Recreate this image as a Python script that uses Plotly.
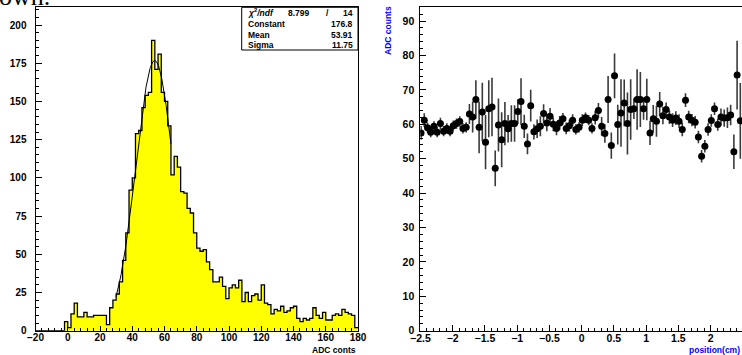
import numpy as np
import plotly.graph_objects as go

W, H = 742, 355

# ---------------- left: histogram ----------------
hist_lo = -20
hist_bin = 2
hist_counts = [0, 0, 0, 0, 0, 0, 0, 0, 0,
               6, 2, 11, 18, 9, 9, 12, 9, 9, 10, 10, 10, 10, 4, 15, 20, 24, 32, 46, 64,
               92, 100, 129, 131, 146, 154, 156, 190, 171, 181, 156, 150, 134, 102, 114, 107,
               91, 90, 80, 77, 64, 54, 52, 53, 45, 40, 32, 32, 35, 29, 21, 28, 30, 28, 33,
               19, 25, 19, 23, 24, 20, 30, 18, 17, 11, 14, 13, 16, 12, 13, 15, 16, 8, 6,
               8, 7, 8, 15, 10, 8, 12, 7, 7, 10, 11, 10, 14, 12, 11, 10, 2]

fit_const = 176.8
fit_mean = 53.91
fit_sigma = 11.75
fit_range = [30, 64]
stat_labels = ["<i>χ</i><sup>2</sup><i>/ndf</i>", "Constant", "Mean", "Sigma"]
stat_values = ["14", "176.8", "53.91", "11.75"]
chi2_value = "8.799"

# ---------------- right: profile ----------------
pos_x = [-2.49, -2.44, -2.39, -2.34, -2.29, -2.24, -2.19, -2.14, -2.09, -2.04,
         -1.99, -1.94, -1.89, -1.84, -1.79, -1.74, -1.69, -1.64, -1.59, -1.54,
         -1.49, -1.44, -1.39, -1.34, -1.29, -1.24, -1.19, -1.14, -1.09, -1.04,
         -0.99, -0.94, -0.89, -0.84, -0.79, -0.74, -0.69, -0.64, -0.59, -0.54,
         -0.49, -0.44, -0.39, -0.34, -0.29, -0.24, -0.19, -0.14, -0.09, -0.04,
         0.01, 0.06, 0.11, 0.16, 0.21, 0.26, 0.31, 0.36, 0.41, 0.46,
         0.51, 0.56, 0.61, 0.66, 0.71, 0.76, 0.81, 0.86, 0.91, 0.96,
         1.01, 1.06, 1.11, 1.16, 1.21, 1.26, 1.31, 1.36, 1.41, 1.46,
         1.51, 1.56, 1.61, 1.66, 1.71, 1.76, 1.81, 1.86, 1.91, 1.96,
         2.01, 2.06, 2.11, 2.16, 2.21, 2.26, 2.31, 2.36, 2.41, 2.46]
adc_mean = [57.5, 61.2, 59.0, 57.7, 59.4, 57.7, 60.2, 58.0, 58.8, 58.0,
            59.6, 60.2, 60.8, 58.8, 59.1, 63.0, 62.1, 67.2, 59.1, 63.6,
            54.8, 64.5, 65.0, 47.2, 59.8, 55.5, 60.2, 58.7, 60.2, 60.2,
            63.7, 66.6, 59.4, 54.3, 65.4, 57.8, 58.7, 59.4, 63.1, 60.4,
            62.3, 60.0, 58.8, 60.4, 61.6, 58.8, 59.6, 61.2, 58.5, 59.1,
            61.2, 61.9, 61.2, 58.8, 61.9, 64.0, 59.4, 57.3, 67.2, 53.8,
            74.1, 59.9, 63.3, 66.2, 60.2, 64.3, 64.5, 67.2, 67.2, 64.5,
            67.2, 57.5, 61.6, 60.9, 65.9, 62.5, 64.3, 62.1, 61.2, 61.8,
            60.9, 58.5, 67.0, 62.1, 61.2, 60.6, 56.3, 50.7, 53.6, 58.5,
            61.1, 64.5, 59.9, 62.1, 61.8, 61.9, 62.7, 52.0, 74.3, 61.0]
adc_err = [2.0, 2.0, 1.5, 1.5, 1.5, 1.5, 1.7, 1.5, 1.5, 1.5,
           1.5, 1.5, 1.5, 1.5, 1.5, 2.9, 4.5, 5.6, 7.5, 8.5,
           7.9, 8.3, 8.5, 5.2, 7.7, 8.0, 6.3, 4.0, 5.3, 5.3,
           3.6, 6.8, 3.4, 3.0, 4.6, 2.2, 2.7, 2.9, 2.7, 2.4,
           2.4, 2.0, 2.0, 2.0, 1.7, 1.7, 1.7, 1.7, 1.5, 1.5,
           1.7, 1.5, 1.5, 1.5, 2.0, 2.2, 2.7, 2.7, 6.8, 3.8,
           6.5, 5.8, 9.8, 6.8, 9.0, 8.8, 3.0, 8.8, 8.0, 3.2,
           6.0, 3.5, 4.0, 4.5, 3.5, 2.5, 2.0, 2.0, 2.0, 2.0,
           2.0, 2.0, 2.0, 1.8, 1.8, 1.8, 1.8, 1.8, 1.8, 1.8,
           1.8, 1.8, 1.8, 2.5, 2.5, 3.0, 3.0, 5.0, 10.0, 11.0]

# ---------------- geometry helpers ----------------
def px(x):
    return x / W

def py(y):
    return 1 - y / H

L_X0, L_X1 = 35.5, 358.0
R_X0 = 420.4
Y_TOP, Y_BOT = 7.3, 330.7

edges = hist_lo + hist_bin * np.arange(len(hist_counts) + 1)
hist_y = list(hist_counts) + [hist_counts[-1]]

fx = np.linspace(fit_range[0], fit_range[1], 200)
fy = fit_const * np.exp(-0.5 * ((fx - fit_mean) / fit_sigma) ** 2)

fig = go.Figure()
fig.add_trace(go.Scatter(x=edges, y=hist_y, mode="lines", line=dict(shape="hv", color="black", width=1.3),
                         fill="tozeroy", fillcolor="#ffff00", xaxis="x", yaxis="y", showlegend=False,
                         hoverinfo="skip"))
fig.add_trace(go.Scatter(x=fx, y=fy, mode="lines", line=dict(color="black", width=1),
                         xaxis="x", yaxis="y", showlegend=False))
fig.add_trace(go.Scatter(x=pos_x, y=adc_mean, mode="markers",
                         marker=dict(color="black", size=7),
                         error_y=dict(type="data", array=adc_err, visible=True, thickness=1.6,
                                      width=0, color="#3a3a3a"),
                         xaxis="x2", yaxis="y2", showlegend=False, cliponaxis=True))

tickfont_l = dict(family="Liberation Sans, Arial", size=10, color="black", weight="bold")
tickfont_r = dict(family="Liberation Sans, Arial", size=10.5, color="black", weight="bold")

common = dict(showgrid=False, zeroline=False, showline=True, linecolor="black", linewidth=1,
              ticks="inside", tickcolor="black", tickwidth=1, automargin=False)

fig.update_layout(
    width=W, height=H, margin=dict(l=0, r=0, t=0, b=0),
    paper_bgcolor="white", plot_bgcolor="white",
    xaxis=dict(domain=[px(L_X0), px(L_X1)], range=[-20, 180], dtick=20, tick0=0, anchor="y",
               mirror=True, ticklen=5, tickfont=tickfont_l, ticklabelstandoff=-3,
               minor=dict(ticks="inside", ticklen=3, dtick=4, tickcolor="black", showgrid=False),
               **common),
    yaxis=dict(domain=[py(Y_BOT), py(Y_TOP)], range=[0, 211.6], dtick=25, tick0=0, anchor="x",
               mirror=True, ticklen=6, tickfont=tickfont_l, ticklabelstandoff=6,
               minor=dict(ticks="inside", ticklen=3, dtick=5, tickcolor="black", showgrid=False),
               **common),
    xaxis2=dict(domain=[px(R_X0), 1.0], range=[-2.5, 2.486], dtick=0.5, tick0=0, anchor="y2",
                mirror=True, ticklen=6, tickfont=tickfont_r, ticklabelstandoff=-2,
                minor=dict(ticks="inside", ticklen=3, dtick=0.1, tickcolor="black", showgrid=False),
                **common),
    yaxis2=dict(domain=[py(Y_BOT), py(Y_TOP)], range=[0, 94.0], dtick=10, tick0=0, anchor="x2",
                mirror=False, ticklen=6, tickfont=tickfont_r, ticklabelstandoff=3,
                minor=dict(ticks="inside", ticklen=3, dtick=2, tickcolor="black", showgrid=False),
                **common),
)

ann = []
# axis titles
ann.append(dict(text="ADC conts", x=px(358), y=py(349.5), xref="paper", yref="paper", xanchor="right",
                yanchor="middle", showarrow=False,
                font=dict(family="Liberation Sans, Arial", size=8.5, color="black", weight="bold")))
ann.append(dict(text="position(cm)", x=px(742), y=py(350), xref="paper", yref="paper", xanchor="right",
                yanchor="middle", showarrow=False,
                font=dict(family="Liberation Sans, Arial", size=8.5, color="blue", weight="bold")))
ann.append(dict(text="ADC counts", x=px(388), y=py(31), xref="paper", yref="paper", xanchor="center",
                yanchor="middle", showarrow=False, textangle=-90,
                font=dict(family="Liberation Sans, Arial", size=8.5, color="blue", weight="bold")))
# stats box
box_font = dict(family="Liberation Sans, Arial", size=8.5, color="black", weight="bold")
row_y = [12.7, 24.0, 34.7, 45.3]
for lab, val, yy in zip(stat_labels, stat_values, row_y):
    ann.append(dict(text=lab, x=px(246), y=py(yy), xref="paper", yref="paper", xanchor="left",
                    yanchor="middle", showarrow=False, font=box_font))
    ann.append(dict(text=val, x=px(355), y=py(yy), xref="paper", yref="paper", xanchor="right",
                    yanchor="middle", showarrow=False, font=box_font))
ann.append(dict(text=chi2_value, x=px(312), y=py(row_y[0]), xref="paper", yref="paper", xanchor="right",
                yanchor="middle", showarrow=False, font=box_font))
ann.append(dict(text="/", x=px(327), y=py(row_y[0]), xref="paper", yref="paper", xanchor="center",
                yanchor="middle", showarrow=False, font=box_font))
# cropped text from the page above
ann.append(dict(text="own.", x=px(-3), y=py(13), xref="paper", yref="paper", xanchor="left",
                yanchor="bottom", showarrow=False,
                font=dict(family="Liberation Serif, Times New Roman", size=26, color="black")))
fig.update_layout(annotations=ann)

fig.update_layout(shapes=[
    dict(type="rect", xref="paper", yref="paper", x0=px(241.7), x1=px(358), y0=py(50), y1=py(Y_TOP),
         line=dict(color="black", width=1), fillcolor="white", layer="above"),
])

fig.write_html("out.html", config={"displayModeBar": False, "staticPlot": True},
               post_script="document.body.style.margin='0';document.body.style.overflow='hidden';")
